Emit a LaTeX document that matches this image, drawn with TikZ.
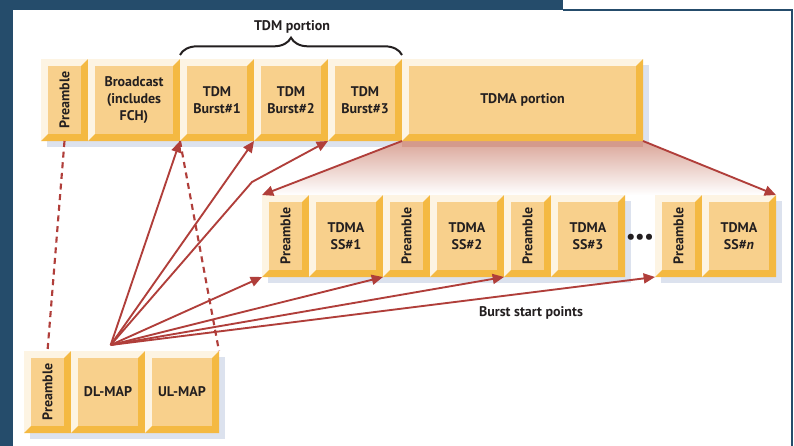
\documentclass[tikz,border=0pt]{standalone}
\usepackage{fontspec}
\setmainfont{PT Sans}
\usetikzlibrary{arrows.meta,positioning,backgrounds,decorations.pathreplacing}
\definecolor{frame}{RGB}{37,76,107}
\definecolor{bevellight}{RGB}{253,244,227}
\definecolor{bevelface}{RGB}{248,208,140}
\definecolor{beveldark}{RGB}{244,185,66}
\definecolor{dropshadow}{RGB}{220,226,238}
\definecolor{burstred}{RGB}{176,62,58}
\definecolor{fanband}{RGB}{212,154,140}
\definecolor{fantop}{RGB}{218,165,152}
\definecolor{ink}{RGB}{35,31,32}

\begin{document}
\begin{tikzpicture}[
  x=0.75pt,y=-0.75pt,
  lbl/.style={font=\bfseries\fontsize{10.5}{12.5}\selectfont,text=ink},
  slot/.style={
    lbl,
    minimum height=61.5pt,
    inner sep=0pt,
    outer sep=0pt,
    fill=bevellight,
    align=center,
    path picture={
      \fill[beveldark] (path picture bounding box.north east)
        -- (path picture bounding box.south east)
        -- (path picture bounding box.south west)
        -- ([shift={(5.25pt,5.25pt)}]path picture bounding box.south west)
        -- ([shift={(-5.25pt,5.25pt)}]path picture bounding box.south east)
        -- ([shift={(-5.25pt,-5.25pt)}]path picture bounding box.north east)
        -- cycle;
      \fill[bevelface] ([shift={(5.25pt,-5.25pt)}]path picture bounding box.north west)
        rectangle ([shift={(-5.25pt,5.25pt)}]path picture bounding box.south east);
    }
  },
  preslot/.style={slot,minimum width=35.25pt},
  dataslot/.style={slot,minimum width=55.5pt},
  startarrow/.style={draw=burstred,line width=1.4pt,-{Triangle[length=8.5pt,width=7.5pt]}},
  mapline/.style={draw=burstred,line width=1.6pt,dash pattern=on 4.5pt off 3.5pt}
]
\useasboundingbox (0,0) rectangle (794,446);

\node[preslot,anchor=north west] (fpre) at (41,59) {\rotatebox{90}{Preamble}};
\node[slot,minimum width=69pt,right=0pt of fpre] (bcast) {Broadcast\\(includes\\FCH)};
\node[dataslot,right=0pt of bcast] (tdm1) {TDM\\Burst\#1};
\node[dataslot,right=0pt of tdm1] (tdm2) {TDM\\Burst\#2};
\node[dataslot,right=0pt of tdm2] (tdm3) {TDM\\Burst\#3};
\node[slot,minimum width=180.75pt,right=0pt of tdm3] (tdma) {TDMA portion};

\node[preslot,anchor=north west] (pre1) at (262,195) {\rotatebox{90}{Preamble}};
\node[dataslot,right=0pt of pre1] (ss1) {TDMA\\SS\#1};
\node[preslot,right=0pt of ss1] (pre2) {\rotatebox{90}{Preamble}};
\node[dataslot,right=0pt of pre2] (ss2) {TDMA\\SS\#2};
\node[preslot,right=0pt of ss2] (pre3) {\rotatebox{90}{Preamble}};
\node[dataslot,right=0pt of pre3] (ss3) {TDMA\\SS\#3};
\node[preslot,anchor=north west] (pren) at (655,195) {\rotatebox{90}{Preamble}};
\node[dataslot,right=0pt of pren] (ssn) {TDMA\\SS\#\textit{n}};

\node[preslot,anchor=north west] (mpre) at (24,351) {\rotatebox{90}{Preamble}};
\node[dataslot,right=0pt of mpre] (dlmap) {DL-MAP};
\node[dataslot,right=0pt of dlmap] (ulmap) {UL-MAP};

\node[lbl] (tdmlbl) at (292,27) {TDM portion};
\node[lbl] (startlbl) at (531,313) {Burst start points};
\node[lbl,font=\bfseries\fontsize{15}{15}\selectfont] (more) at (640,239) {\textbullet\textbullet\textbullet};

\begin{scope}[on background layer]
  \fill[white] (0,0) rectangle (794,446);
  \fill[frame] (0,0) rectangle (563,10);
  \fill[frame] (0,0) rectangle (13,446);
  \draw[frame,line width=1.1pt] (563,10) -- (792,10) -- (792,446);
  \fill[dropshadow] ([shift={(4.5pt,-4.5pt)}]fpre.north west) rectangle ([shift={(4.5pt,-4.5pt)}]tdma.south east);
  \fill[dropshadow] ([shift={(4.5pt,-4.5pt)}]pre1.north west) rectangle ([shift={(4.5pt,-4.5pt)}]ss3.south east);
  \fill[dropshadow] ([shift={(4.5pt,-4.5pt)}]pren.north west) rectangle ([shift={(4.5pt,-4.5pt)}]ssn.south east);
  \fill[dropshadow] ([shift={(4.5pt,-4.5pt)}]mpre.north west) rectangle ([shift={(4.5pt,-4.5pt)}]ulmap.south east);
  \shade[top color=fantop,bottom color=white] (tdma.south west) -- (tdma.south east) -- (ssn.north east) -- (pre1.north west) -- cycle;
  \fill[fanband] (tdma.south west) rectangle ([yshift=-4.5pt]tdma.south east);
\end{scope}

\draw[decorate,decoration={brace,amplitude=13pt},line width=1.5pt,ink] ([yshift=3pt]tdm1.north west) -- ([yshift=3pt]tdm3.north east);

\coordinate (src) at ([xshift=2pt,yshift=4.5pt]dlmap.north);
\coordinate (kink) at (252,182);

\draw[mapline] (fpre.south) -- (mpre.north);
\draw[mapline] (bcast.south east) -- (ulmap.north east);

\draw[startarrow] (tdma.south west) -- (pre1.north west);
\draw[startarrow] (tdma.south east) -- (ssn.north east);
\draw[startarrow] (src) -- (bcast.south east);
\draw[startarrow] (src) -- (tdm1.south east);
\draw[startarrow] (src) -- (kink) -- (tdm2.south east);
\draw[startarrow] (src) -- (pre1.south west);
\draw[startarrow] (src) -- (ss1.south east);
\draw[startarrow] (src) -- (ss2.south east);
\draw[startarrow] (src) -- (pren.south west);
\end{tikzpicture}
\end{document}
